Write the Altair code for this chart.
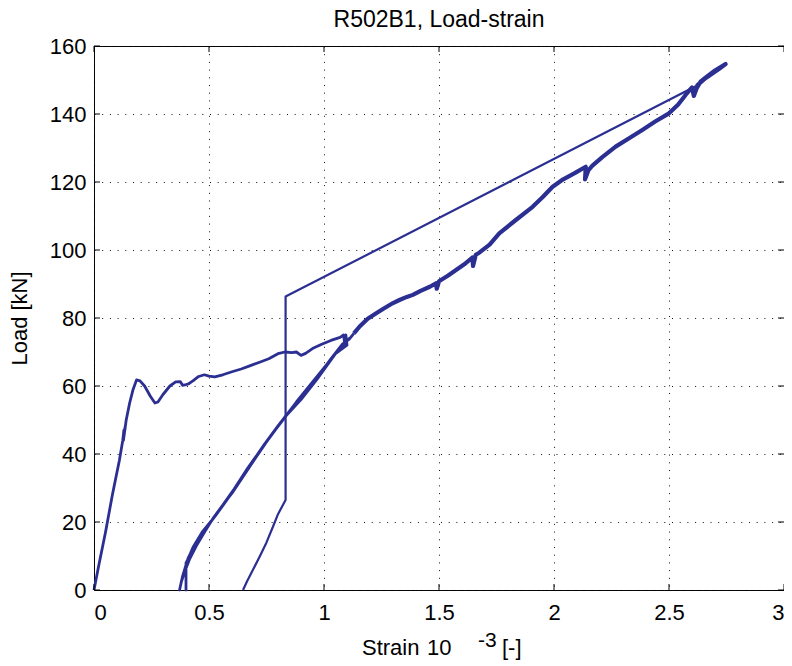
import altair as alt
import pandas as pd

# ---------------- data ----------------
x_ticks = [0, 0.5, 1, 1.5, 2, 2.5, 3]
y_ticks = [0, 20, 40, 60, 80, 100, 120, 140, 160]

# part 1: first loading, plateau, then unload/reload cycles
strain_1 = [0.0, 0.02, 0.05, 0.08, 0.11, 0.125, 0.13, 0.128, 0.135, 0.13, 0.14, 0.155, 0.17, 0.185,
            0.2, 0.22, 0.245, 0.265, 0.278, 0.3, 0.33, 0.355, 0.375, 0.385, 0.395, 0.41, 0.43, 0.455,
            0.48, 0.5, 0.525, 0.56, 0.6, 0.64, 0.68, 0.72, 0.76, 0.8, 0.83, 0.86, 0.88, 0.9, 0.92,
            0.95, 0.99, 1.03, 1.07, 1.085, 1.09, 1.095, 1.1,
            1.05, 0.97, 0.9, 0.836, 0.77, 0.706, 0.65, 0.6, 0.56, 0.52, 0.48, 0.445, 0.415, 0.395,
            0.38, 0.372,
            0.385, 0.405, 0.43, 0.47, 0.51, 0.56, 0.62, 0.68, 0.74, 0.8, 0.86, 0.92, 0.98, 1.04,
            1.09, 1.11,
            1.06, 1.0, 0.94, 0.88, 0.82, 0.76, 0.7, 0.64, 0.58, 0.53, 0.49, 0.455, 0.43, 0.41, 0.4,
            0.4, 0.4,
            0.4, 0.42, 0.46, 0.5, 0.55, 0.61, 0.67, 0.73, 0.79, 0.85, 0.91, 0.97, 1.03, 1.08, 1.11,
            1.13]
load_1 = [0.0, 7.0, 17.0, 28.0, 38.0, 44.0, 47.0, 44.0, 48.0, 45.0, 50.0, 55.0, 59.0, 61.8,
          61.5, 60.0, 57.0, 55.0, 55.3, 57.5, 60.0, 61.2, 61.3, 60.2, 60.3, 60.6, 61.5, 62.8,
          63.3, 62.9, 62.7, 63.3, 64.2, 65.0, 66.0, 67.0, 68.0, 69.5, 70.0, 69.8, 70.0, 69.0, 69.6,
          71.0, 72.3, 73.4, 74.3, 75.0, 72.5, 75.0, 72.0,
          69.5, 62.0, 56.0, 51.3, 45.5, 39.2, 33.5, 28.5, 25.0, 21.3, 17.0, 13.0, 9.0, 5.5,
          2.5, 0.0,
          4.0, 8.5, 12.5, 17.0, 20.3, 24.8, 30.5, 36.8, 42.8, 48.3, 53.5, 58.5, 63.5, 68.8,
          72.8, 74.0,
          70.3, 65.3, 60.3, 55.3, 50.0, 44.6, 38.8, 32.6, 26.7, 22.0, 18.5, 15.0, 12.0, 9.5, 7.5,
          3.0, 0.0,
          8.0, 10.5, 15.0, 19.3, 24.0, 29.8, 36.0, 41.7, 47.2, 52.5, 57.5, 62.5, 68.0, 72.3, 73.8,
          75.5]

# part 2: main loading branch up to the peak
strain_2 = [1.13, 1.155, 1.19, 1.227, 1.26, 1.3, 1.328, 1.36, 1.386, 1.42, 1.46, 1.487, 1.49,
            1.5, 1.54, 1.574, 1.61, 1.645, 1.648, 1.66, 1.675, 1.72, 1.762, 1.83, 1.907, 1.95,
            1.994, 2.04, 2.09, 2.138, 2.135, 2.15, 2.167, 2.21, 2.268, 2.33, 2.384, 2.44, 2.5,
            2.54, 2.572, 2.6, 2.608, 2.62, 2.637, 2.67, 2.7, 2.746, 2.72, 2.66, 2.62]
load_2 = [75.5, 77.5, 79.8, 81.4, 82.8, 84.4, 85.3, 86.2, 86.8, 88.0, 89.2, 90.2, 88.6,
          90.8, 92.5, 94.1, 95.8, 97.8, 95.3, 98.6, 99.2, 101.6, 104.9, 108.6, 112.7, 115.5,
          118.6, 120.8, 122.6, 124.5, 120.8, 123.5, 124.8, 127.3, 130.4, 133.0, 135.3, 137.8, 140.2,
          142.8, 145.6, 147.8, 145.3, 147.5, 149.5, 151.3, 152.8, 154.7, 153.4, 150.6, 148.3]

# part 3: gauge jump and final unloading
strain_3 = [2.62, 0.833, 0.833, 0.8, 0.778, 0.75, 0.72, 0.69, 0.665, 0.648]
load_3 = [148.3, 86.3, 26.5, 22.3, 18.6, 14.0, 9.8, 5.8, 2.5, 0.0]

df1 = pd.DataFrame({"strain": strain_1, "load": load_1, "i": range(len(strain_1))})
df2 = pd.DataFrame({"strain": strain_2, "load": load_2, "i": range(len(strain_2))})
df3 = pd.DataFrame({"strain": strain_3, "load": load_3, "i": range(len(strain_3))})
xt = pd.DataFrame({"strain": x_ticks})
yt = pd.DataFrame({"load": y_ticks})

# ---------------- styling ----------------
W, H = 690, 544
FONT = "Liberation Sans"
BLUE = "#2c2f92"
TL = 6  # inward tick length

xs = alt.Scale(domain=[0, 3], nice=False, zero=False)
ys = alt.Scale(domain=[0, 160], nice=False, zero=False)

x_axis = alt.Axis(values=x_ticks, format=".1~f", title=None, grid=True, gridDash=[1, 6.7],
                  gridColor="#111111", gridWidth=1, ticks=False, domain=False,
                  labelFont=FONT, labelFontSize=22, labelColor="black", labelPadding=12)
y_axis = alt.Axis(values=y_ticks, format="d", title="Load [kN]", grid=True, gridDash=[1, 6.7],
                  gridColor="#111111", gridWidth=1, ticks=False, domain=False,
                  labelFont=FONT, labelFontSize=22, labelColor="black", labelPadding=8,
                  titleFont=FONT, titleFontSize=22, titleFontWeight="normal", titleColor="black",
                  titlePadding=18)

X = alt.X("strain:Q", scale=xs, axis=x_axis)
Y = alt.Y("load:Q", scale=ys, axis=y_axis)

line1 = alt.Chart(df1).mark_line(color=BLUE, strokeWidth=2.8, strokeJoin="round").encode(
    x=X, y=Y, order="i:Q")
line2 = alt.Chart(df2).mark_line(color=BLUE, strokeWidth=4.2, strokeJoin="round").encode(
    x=X, y=Y, order="i:Q")
line3 = alt.Chart(df3).mark_line(color=BLUE, strokeWidth=2.2, strokeJoin="round").encode(
    x=X, y=Y, order="i:Q")

tick_b = alt.Chart(xt).mark_rule(color="black", strokeWidth=1).encode(
    x=X, y=alt.value(H), y2=alt.value(H - TL))
tick_t = alt.Chart(xt).mark_rule(color="black", strokeWidth=1).encode(
    x=X, y=alt.value(0), y2=alt.value(TL))
tick_l = alt.Chart(yt).mark_rule(color="black", strokeWidth=1).encode(
    y=Y, x=alt.value(0), x2=alt.value(TL))
tick_r = alt.Chart(yt).mark_rule(color="black", strokeWidth=1).encode(
    y=Y, x=alt.value(W), x2=alt.value(W - TL))

lab_df = pd.DataFrame({"a": [0]})
def label(txt, px, py, size=22):
    return alt.Chart(lab_df).mark_text(text=txt, font=FONT, fontSize=size, color="black",
                                       align="left", baseline="alphabetic").encode(
        x=alt.value(px), y=alt.value(py))

xlab = (label("Strain", 268, 609) + label("10", 333, 609) + label("-3", 384, 601, 21)
        + label("[-]", 408, 609))

chart = alt.layer(line1, line2, line3, tick_b, tick_t, tick_l, tick_r, xlab).properties(
    width=W, height=H,
    title=alt.TitleParams("R502B1, Load-strain", font=FONT, fontSize=23, fontWeight="normal",
                          color="black", anchor="middle", offset=3, frame="group"),
    autosize=alt.AutoSizeParams(type="none"),
    padding={"left": 86, "top": 38, "right": 0, "bottom": 74},
    background="white",
).configure_view(stroke="black", strokeWidth=1)

chart.save("out.html", embed_options={"renderer": "svg", "actions": False})
